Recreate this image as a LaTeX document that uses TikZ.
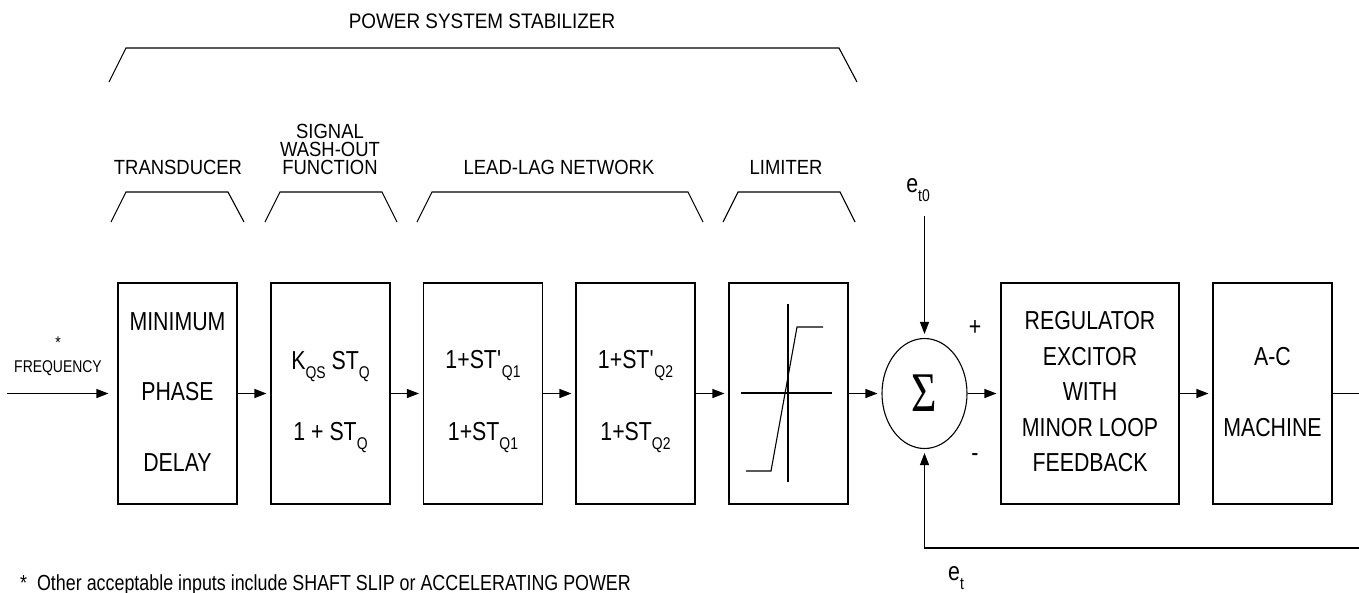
\documentclass[tikz,border=0pt]{standalone}
\usepackage{fontspec}
\setmainfont[FakeStretch=0.82]{Liberation Sans}
\newfontfamily\lblfont[FakeStretch=0.9]{Liberation Sans}
\newfontfamily\sigfont{Liberation Serif}
\usepackage{graphicx}
\usetikzlibrary{arrows.meta,shapes.geometric}
\newcommand\sbs[1]{\raisebox{-9pt}{\fontsize{17}{17}\selectfont #1}}
\begin{document}
\begin{tikzpicture}[x=1pt,y=-1pt,
  ln/.style={line width=1.1pt},
  blk/.style={draw, line width=1.1pt, minimum width=119pt, minimum height=221pt, inner sep=0pt},
  arr/.style={-{Triangle[length=12pt,width=9pt]}, line width=1.1pt, shorten >=4pt},
  txt/.style={font=\fontsize{26}{30}\selectfont, inner sep=0pt},
  lbl/.style={font=\lblfont\fontsize{20.5}{18}\selectfont, inner sep=0pt, align=center}]
\useasboundingbox (0,0) rectangle (1359,592);
% title and brackets
\node[lbl, font=\lblfont\fontsize{21}{22}\selectfont] (title) at (482,21) {POWER SYSTEM STABILIZER};
\draw[ln] (109,82) -- (126,48) -- (839,48) -- (857,82);
\node[lbl] (ltr) at (178,167) {TRANSDUCER};
\node[lbl] (lwo) at (330,149.5) {SIGNAL\\WASH-OUT\\FUNCTION};
\node[lbl] (lll) at (559,167) {LEAD-LAG NETWORK};
\node[lbl] (llim) at (786,167) {LIMITER};
\draw[ln] (111,222) -- (126,192) -- (228,192) -- (244,222);
\draw[ln] (265,222) -- (280,192) -- (382,192) -- (397,222);
\draw[ln] (417,222) -- (432,192) -- (688,192) -- (703,222);
\draw[ln] (723,222) -- (738,192) -- (840,192) -- (855,222);
% blocks
\node[blk] (b1) at (177.5,393.5) {};
\node[blk] (b2) at (330.5,393.5) {};
\node[blk] (b3) at (483,393.5) {};
\node[blk] (b4) at (635.5,393.5) {};
\node[blk] (b5) at (788.5,393.5) {};
\node[blk, minimum width=178pt] (reg) at (1090,393.5) {};
\node[blk] (ac) at (1272.5,393.5) {};
% block texts
\node[txt] (t1a) at (177.5,322) {MINIMUM};
\node[txt] (t1b) at (177.5,392) {PHASE};
\node[txt] (t1c) at (177.5,463) {DELAY};
\node[txt, anchor=base] (t2a) at (330.5,369) {K\sbs{QS} ST\sbs{Q}};
\node[txt, anchor=base] (t2b) at (330.5,440) {1 + ST\sbs{Q}};
\node[txt, anchor=base] (t3a) at (483,368) {1+ST\textquotesingle\sbs{Q1}};
\node[txt, anchor=base] (t3b) at (483,440) {1+ST\sbs{Q1}};
\node[txt, anchor=base] (t4a) at (635.5,368) {1+ST\textquotesingle\sbs{Q2}};
\node[txt, anchor=base] (t4b) at (635.5,440) {1+ST\sbs{Q2}};
\node[txt] (r1) at (1090,321) {REGULATOR};
\node[txt] (r2) at (1090,357) {EXCITOR};
\node[txt] (r3) at (1090,392) {WITH};
\node[txt] (r4) at (1090,428) {MINOR LOOP};
\node[txt] (r5) at (1090,463) {FEEDBACK};
\node[txt] (m1) at (1272.5,357) {A-C};
\node[txt] (m2) at (1272.5,428) {MACHINE};
% limiter characteristic
\draw[ln] (788,304) -- (788,482);
\draw[ln] (741,393) -- (832,393);
\draw[ln] (746,471) -- (771,471) -- (797,327) -- (823,327);
% summing junction
\node[draw, ellipse, line width=1.1pt, minimum width=85pt, minimum height=110pt, inner sep=0pt] (sum) at (924.5,393.5) {\fontsize{56}{60}\sigfont\scalebox{0.78}[1]{Σ}};
\node[txt] (plus) at (975,328) {+};
\node[txt] (minus) at (975,458) {-};
\node[txt, anchor=base] (et0) at (918,192) {e\sbs{t0}};
\node[txt, anchor=base] (et) at (956,580) {e\sbs{t}};
% input
\node[lbl, font=\fontsize{17}{17}\selectfont] (star) at (58,343) {*};
\node[lbl, font=\fontsize{17}{17}\selectfont] (freq) at (58,368) {FREQUENCY};
\coordinate (in) at (7,393.5);
\coordinate (top) at (924.5,216);
\coordinate (out) at (1359,393.5);
\coordinate (fb) at (1359,548);
% connectors
\draw[arr, shorten >=9pt] (in) -- (b1);
\draw[arr] (b1) -- (b2);
\draw[arr] (b2) -- (b3);
\draw[arr] (b3) -- (b4);
\draw[arr] (b4) -- (b5);
\draw[arr] (b5) -- (sum);
\draw[arr] (sum) -- (reg);
\draw[arr] (reg) -- (ac);
\draw[ln] (ac) -- (out);
\draw[arr] (top) -- (sum.north);
\draw[arr] (fb) -| (sum.south);
% footnote
\node[anchor=base west, inner sep=0pt, font=\fontsize{21.8}{22}\selectfont] (note) at (20,590) {*\ \ Other acceptable inputs include SHAFT SLIP or ACCELERATING POWER};
\end{tikzpicture}
\end{document}
